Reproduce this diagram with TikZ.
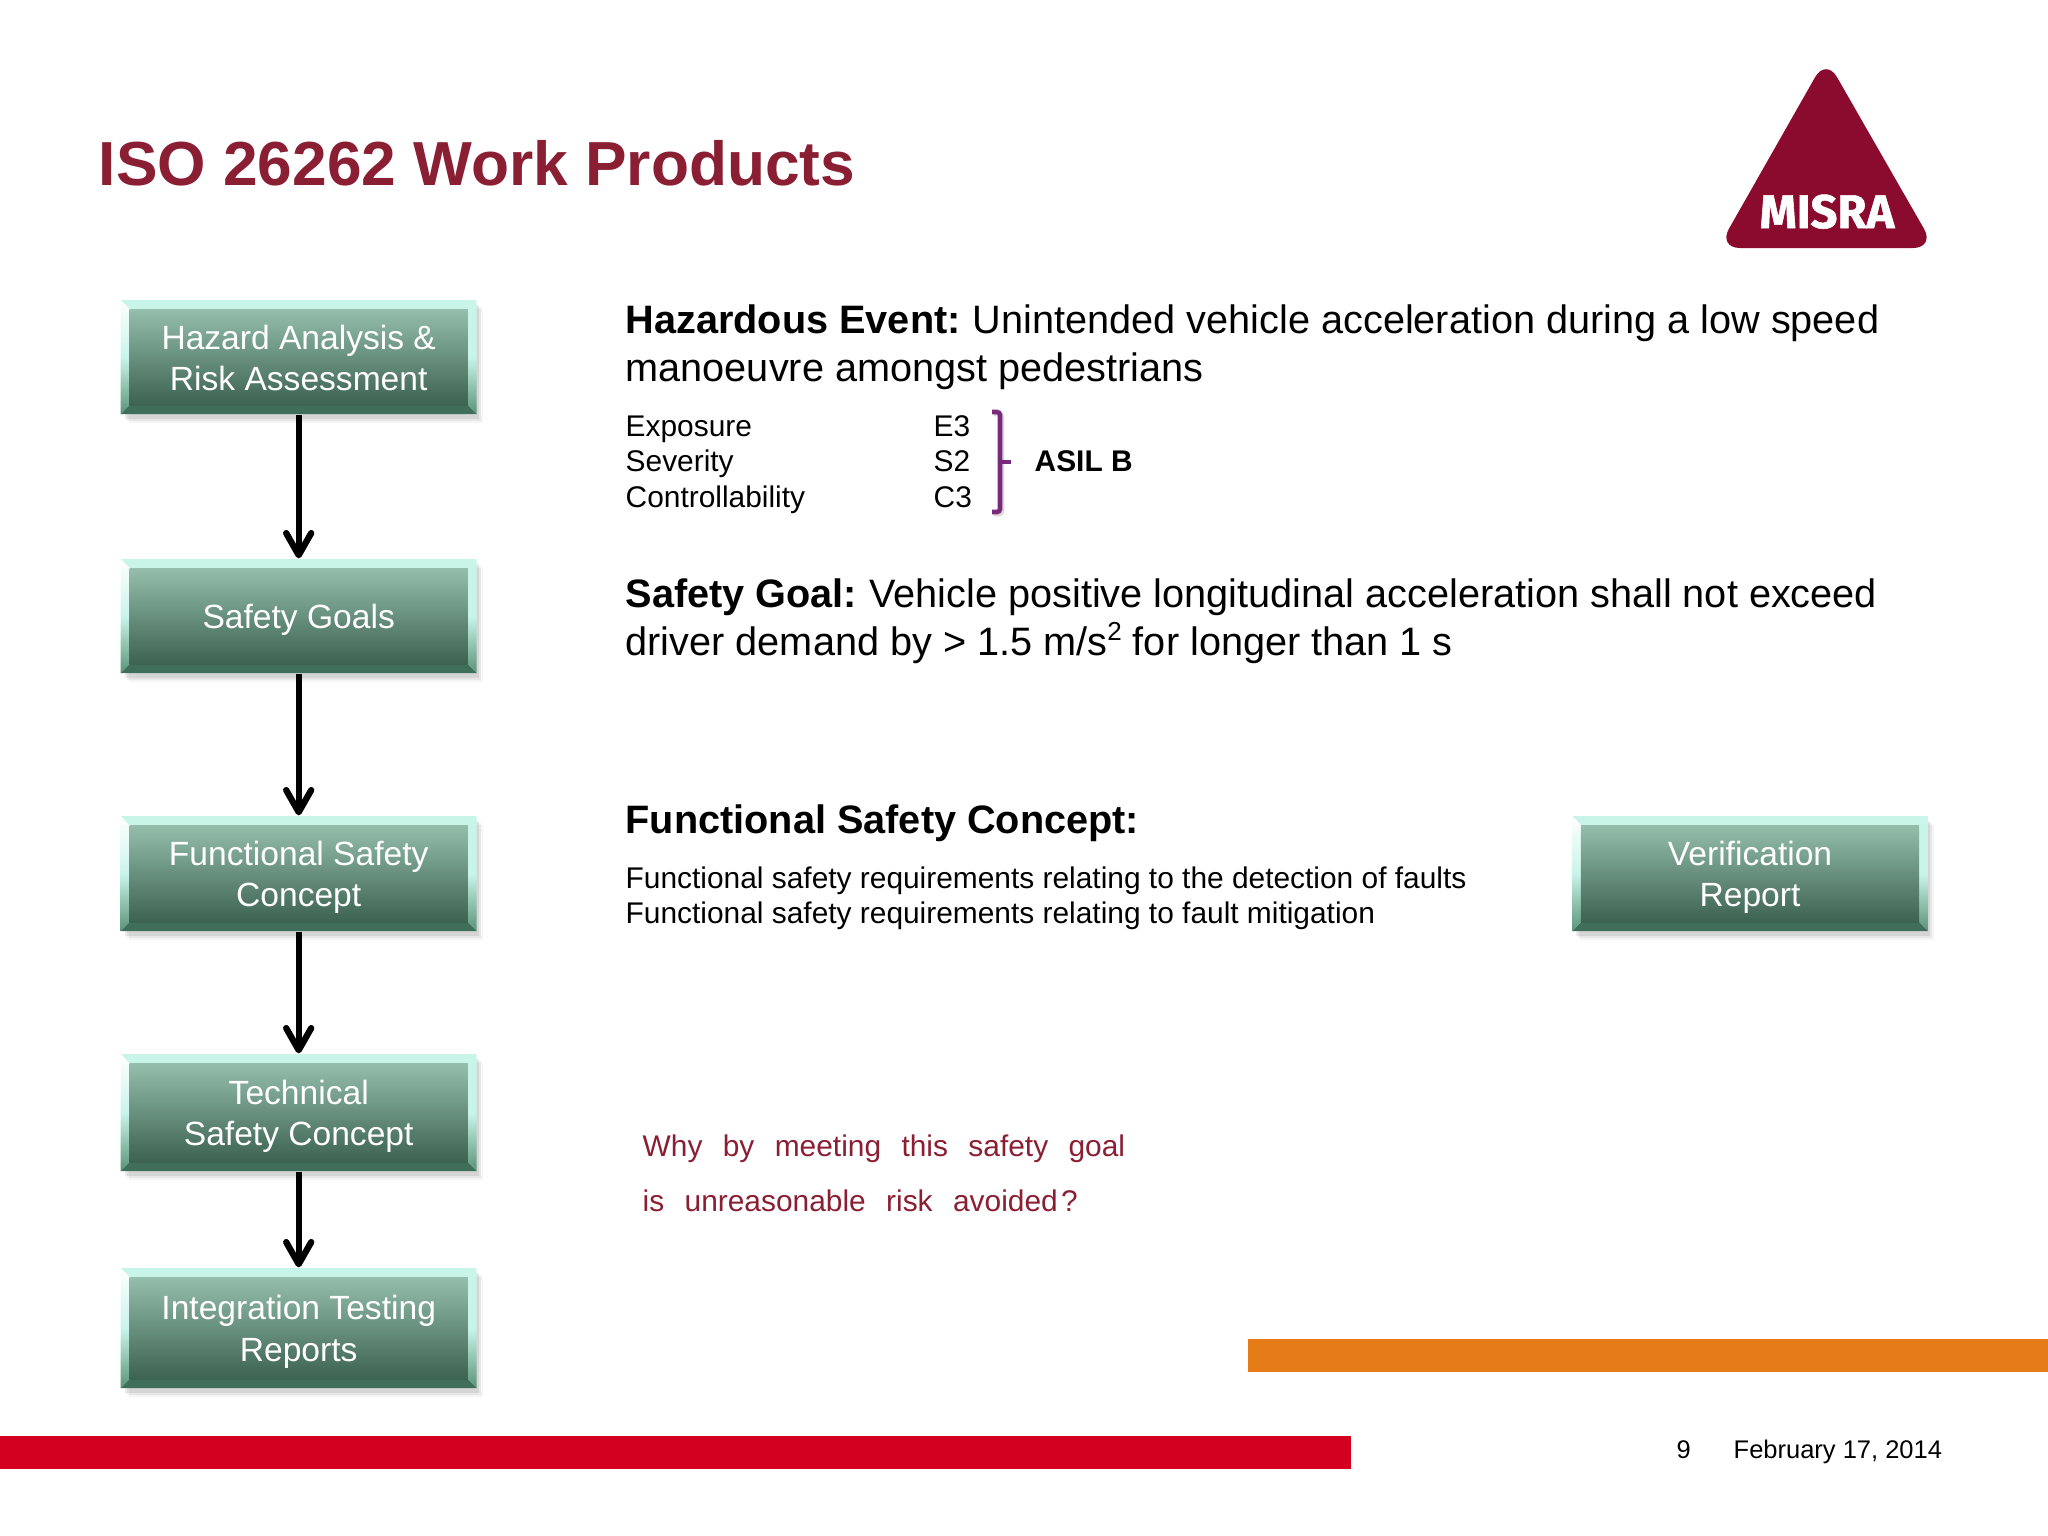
\documentclass[tikz,border=0pt]{standalone}
\usepackage{fontspec}
\setmainfont{Liberation Sans}
\newfontfamily\logofont[BoldFeatures={FakeBold=1.2}]{Fira Sans}
\usetikzlibrary{arrows.meta,calc}
\definecolor{misrared}{HTML}{8A1F33}
\definecolor{logored}{HTML}{8A0B2E}
\definecolor{barorange}{HTML}{E57C18}
\definecolor{barred}{HTML}{D3001F}
\definecolor{bracepurple}{HTML}{7A2A7C}
\definecolor{facetop}{HTML}{95BEAD}
\definecolor{facebot}{HTML}{3C6251}
\definecolor{bevellight}{HTML}{C9F5E9}
\definecolor{bevelmid}{HTML}{5B937A}
\definecolor{beveldark}{HTML}{3F6E5A}
\tikzset{
	workbox/.style={minimum width=3.38cm,top color=facetop,bottom color=facebot,inner sep=0pt},
	worktext/.style={anchor=base,text=white,align=center,inner sep=0pt,font=\fontsize{9.55}{11.7}\selectfont},
	flow/.style={line width=1.8pt,-{Straight Barb[length=2.2mm,width=2.5mm,round,line width=1.8pt]}},
	bigtext/.style={anchor=base west,align=left,inner sep=0pt,font=\fontsize{11.28}{13.65}\selectfont},
	smalltext/.style={anchor=base west,inner sep=0pt,font=\fontsize{8.5}{10}\selectfont}
}
\newcommand{\wordgap}{\hspace{5.8pt}}
% one bevelled box: name, centre, face height, offset of the last baseline, text
\newcommand{\bevelbox}[5]{
	\foreach \s/\o in {0/.04,-2/.06,-4/.08}
		\fill[black,opacity=\o] ($(#2)+(-170+\s,-0.5*#3+\s)$) rectangle ($(#2)+(184+\s,0.5*#3+18+\s)$);
	\fill[bevellight] ($(#2)+(-178,-0.5*#3-9)$) -- ($(#2)+(178,-0.5*#3-9)$) -- ($(#2)+(169,-0.5*#3)$) -- ($(#2)+(-169,-0.5*#3)$) -- cycle;
	\fill[beveldark] ($(#2)+(-178,0.5*#3+9)$) -- ($(#2)+(178,0.5*#3+9)$) -- ($(#2)+(169,0.5*#3)$) -- ($(#2)+(-169,0.5*#3)$) -- cycle;
	\shade[top color=white,bottom color=bevelmid,middle color=bevellight] ($(#2)+(-178,-0.5*#3-9)$) -- ($(#2)+(-169,-0.5*#3)$) -- ($(#2)+(-169,0.5*#3)$) -- ($(#2)+(-178,0.5*#3+9)$) -- cycle;
	\shade[top color=bevellight,bottom color=bevelmid,middle color=bevellight] ($(#2)+(178,-0.5*#3-9)$) -- ($(#2)+(169,-0.5*#3)$) -- ($(#2)+(169,0.5*#3)$) -- ($(#2)+(178,0.5*#3+9)$) -- cycle;
	\node[workbox,minimum height=#3*0.01cm] (#1) at (#2) {};
	\node[worktext] (#1text) at ($(#2)+(0,#4)$) {#5};
}
\begin{document}
\begin{tikzpicture}[x=0.01cm,y=-0.01cm]
	\useasboundingbox (0,0) rectangle (2048,1536);

	%%%%% TITLE AND LOGO %%%%%
	\node[anchor=base west,inner sep=0pt,text=misrared,font=\fontsize{17.7}{20}\selectfont\bfseries] (title) at (98,185.5) {ISO 26262 Work Products};
	\fill[logored,rounded corners=0.22cm] (1826,58) -- (1935,248) -- (1718,248) -- cycle;
	\node[anchor=base,inner sep=0pt,text=white,font=\fontsize{13.4}{15}\logofont\bfseries] (logo) at (1827,228) {MISRA};

	%%%%% LEFT COLUMN %%%%%
	\bevelbox{hara}{298.7,357}{96}{33.5}{Hazard Analysis \&\\Risk Assessment}
	\bevelbox{goals}{298.7,616}{96}{12.6}{Safety Goals}
	\bevelbox{fsc}{298.7,873.5}{97}{33}{Functional Safety\\Concept}
	\bevelbox{tsc}{298.7,1112.5}{99}{33}{Technical\\Safety Concept}
	\bevelbox{itr}{298.7,1328}{102}{33}{Integration Testing\\Reports}
	\bevelbox{verif}{1750,873.5}{97}{33}{Verification\\Report}

	\draw[flow] ([yshift=-0.09cm]hara.south) -- ([yshift=0.09cm]goals.north);
	\draw[flow] ([yshift=-0.09cm]goals.south) -- ([yshift=0.09cm]fsc.north);
	\draw[flow] ([yshift=-0.09cm]fsc.south) -- ([yshift=0.09cm]tsc.north);
	\draw[flow] ([yshift=-0.09cm]tsc.south) -- ([yshift=0.09cm]itr.north);

	%%%%% RIGHT COLUMN %%%%%
	\node[bigtext] (hazard) at (625,381) {\textbf{Hazardous Event:}\hspace{-0.7pt} Unintended vehicle acceleration during a low speed\\manoeuvre amongst pedestrians};

	\node[smalltext] (exposure) at (625,436) {Exposure};
	\node[smalltext] (severity) at (625,471) {Severity};
	\node[smalltext] (control) at (625,507) {Controllability};
	\node[smalltext] (e3) at (933,436) {E3};
	\node[smalltext] (s2) at (933,471) {S2};
	\node[smalltext] (c3) at (933,507) {C3};
	\draw[black!15,line width=1.3pt,rounded corners=0.03cm] (994,414) -- (1002,414) -- (1002,514) -- (994,514);
	\draw[bracepurple,line width=1.3pt,rounded corners=0.03cm] (992,412) -- (1000,412) -- (1000,512) -- (992,512);
	\draw[bracepurple,line width=1.3pt] (1000,462) -- (1011,462);
	\node[smalltext,font=\fontsize{8.5}{10}\selectfont\bfseries] (asil) at (1034,471) {ASIL B};

	\node[bigtext] (goal) at (625,655) {\textbf{Safety Goal:}\hspace{-0.7pt} Vehicle positive longitudinal acceleration shall not exceed\\driver demand by > 1.5 m/s\raisebox{4.2pt}{\fontsize{7.4}{9}\selectfont 2} for longer than 1 s};

	\node[bigtext,font=\fontsize{11.28}{13.65}\selectfont\bfseries] (concept) at (625,833) {Functional Safety Concept:};
	\node[smalltext] (req1) at (625,888) {Functional safety requirements relating to the detection of faults};
	\node[smalltext] (req2) at (625,923) {Functional safety requirements relating to fault mitigation};

	\node[smalltext,text=misrared] (why1) at (642,1156) {Why\wordgap by\wordgap meeting\wordgap this\wordgap safety\wordgap goal};
	\node[smalltext,text=misrared] (why2) at (642,1211) {is\wordgap unreasonable\wordgap risk\wordgap avoided\hspace{1pt}?};

	%%%%% BARS AND FOOTER %%%%%
	\fill[barorange] (1248,1339) rectangle (2048,1372);
	\fill[barred] (0,1436) rectangle (1351,1469);
	\node[anchor=base west,inner sep=0pt,font=\fontsize{7.25}{9}\selectfont] (page) at (1676,1458) {9};
	\node[anchor=base west,inner sep=0pt,font=\fontsize{7.25}{9}\selectfont] (date) at (1733,1458) {February 17, 2014};
\end{tikzpicture}
\end{document}
